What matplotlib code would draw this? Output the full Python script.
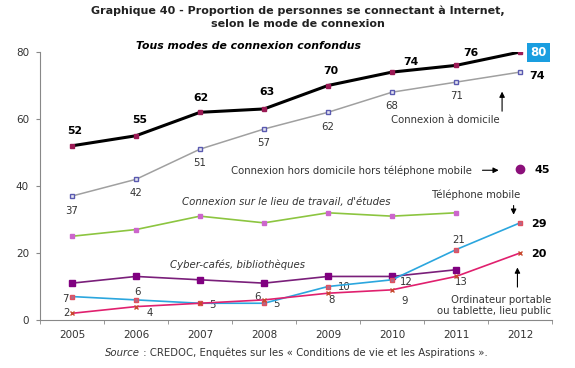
import numpy as np
import matplotlib.pyplot as plt

years = [2005, 2006, 2007, 2008, 2009, 2010, 2011, 2012]
tous_modes = [52, 55, 62, 63, 70, 74, 76, 80]
domicile = [37, 42, 51, 57, 62, 68, 71, 74]
hors_domicile_2012 = 45
travail = [25, 27, 31, 29, 32, 31, 32]
cyber = [11, 13, 12, 11, 13, 13, 15]
mobile = [7, 6, 5, 5, 10, 12, 21, 29]
portable = [2, 4, 5, 6, 8, 9, 13, 20]

x = np.arange(len(years))

fig = plt.figure(figsize=(5.75, 3.68), dpi=100)
ax = fig.add_axes([40 / 575, 1 - 320 / 368, 512 / 575, 268 / 368])

# lines
ax.plot(x, tous_modes, color='black', lw=2.2, marker='s', ms=3.5,
        mfc='#9b1a55', mec='#9b1a55', zorder=5)
ax.plot(x, domicile, color='#a0a0a0', lw=1.1, marker='s', ms=3.5,
        mfc='#e6e6f0', mec='#5a5ab0', zorder=4)
ax.plot(x[:7], travail, color='#8cc540', lw=1.2, marker='s', ms=3.5,
        mfc='#cc66cc', mec='#cc66cc', zorder=4)
ax.plot(x[:7], cyber, color='#7a1f7a', lw=1.2, marker='s', ms=4,
        mfc='#800080', mec='#800080', zorder=4)
ax.plot(x, mobile, color='#2ba6de', lw=1.2, marker='s', ms=3.5,
        mfc='#b06a8a', mec='#e05060', zorder=4)
ax.plot(x, portable, color='#e0206e', lw=1.2, marker='x', ms=3.5,
        mec='#c84a30', mew=1, zorder=4)
ax.plot([7], [hors_domicile_2012], 'o', color='#8b0f7a', ms=6, zorder=5)

ax.set_xlim(-0.5, 7.5)
ax.set_ylim(0, 80)
ax.set_yticks([0, 20, 40, 60, 80])
ax.set_xticks(x)
ax.set_xticklabels([str(y) for y in years])
ax.set_xticks(np.arange(-0.5, 8, 1), minor=True)
ax.tick_params(axis='x', which='major', length=0, pad=7, labelsize=7.5, colors='#333333')
ax.tick_params(axis='x', which='minor', length=3, color='#888888', direction='out')
ax.tick_params(axis='y', length=3, color='#888888', labelsize=7.5, colors='#333333', pad=5)
ax.spines['top'].set_visible(False)
ax.spines['right'].set_visible(False)
ax.spines['left'].set_color('#888888')
ax.spines['bottom'].set_color('#888888')

fs = 7.3
# tous modes labels (dx, y)
tm_pos = [(0.05, 56.5), (0.06, 59.7), (0.02, 66.2), (0.04, 68.2),
          (0.04, 74.3), (0.3, 77.1), (0.23, 79.8)]
for i, (dx, y) in enumerate(tm_pos):
    ax.text(i + dx, y, str(tous_modes[i]), ha='center', va='center', fontsize=7.8, fontweight='bold')
ax.text(7.29, 79.9, '80', ha='center', va='center', fontsize=8.5, fontweight='bold', color='white',
        bbox=dict(boxstyle='square,pad=0.25', fc='#1a9ee0', ec='none'))

dom_pos = [(0.0, 32.5), (0.0, 37.8), (0.0, 46.8), (0.0, 52.9), (0.0, 57.7), (0.0, 63.9), (0.01, 66.9)]
for i, (dx, y) in enumerate(dom_pos):
    ax.text(i + dx, y, str(domicile[i]), ha='center', va='center', fontsize=fs, color='#333333')
ax.text(7.26, 72.9, '74', ha='center', va='center', fontsize=8, fontweight='bold')
ax.text(7.35, 44.8, '45', ha='center', va='center', fontsize=8, fontweight='bold')

# mobile labels (dx, y); 2007 shares the label with portable
mob_pos = [(-0.11, 6.2), (0.02, 8.5), None, (0.2, 4.7), (0.25, 9.8), (0.23, 11.4), (0.04, 23.9)]
for i, p in enumerate(mob_pos):
    if p is None:
        continue
    dx, y = p
    ax.text(i + dx, y, str(mobile[i]), ha='center', va='center', fontsize=fs, color='#333333')
ax.text(7.29, 28.7, '29', ha='center', va='center', fontsize=8, fontweight='bold')

port_pos = [(-0.09, 2.0), (0.22, 2.2), (0.19, 4.5), (-0.1, 7.0), (0.06, 6.0), (0.19, 5.8), (0.09, 11.4)]
for i, (dx, y) in enumerate(port_pos):
    ax.text(i + dx, y, str(portable[i]), ha='center', va='center', fontsize=fs, color='#333333')
ax.text(7.29, 19.7, '20', ha='center', va='center', fontsize=8, fontweight='bold')

arrow = dict(arrowstyle='-|>', color='black', lw=0.8, mutation_scale=8)

# series annotations
ax.text(2.75, 81.8, 'Tous modes de connexion confondus', ha='center', va='center',
        fontsize=7.8, fontweight='bold', style='italic')
ax.annotate('', xy=(6.92, 82.7), xytext=(4.83, 82.7), arrowprops=arrow)

ax.text(5.84, 59.7, 'Connexion à domicile', ha='center', va='center', fontsize=fs, color='#333333')
ax.annotate('', xy=(6.72, 69.0), xytext=(6.72, 61.5), arrowprops=arrow)

ax.text(6.245, 44.6, 'Connexion hors domicile hors téléphone mobile', ha='right', va='center',
        fontsize=fs, color='#333333')
ax.annotate('', xy=(6.71, 44.7), xytext=(6.37, 44.7), arrowprops=arrow)

ax.text(3.34, 35.3, "Connexion sur le lieu de travail, d'études", ha='center', va='center',
        fontsize=fs, style='italic', color='#333333')

ax.text(6.31, 37.3, 'Téléphone mobile', ha='center', va='center', fontsize=fs, color='#333333')
ax.annotate('', xy=(6.9, 30.6), xytext=(6.9, 35.0), arrowprops=arrow)

ax.text(2.59, 16.4, 'Cyber-cafés, bibliothèques', ha='center', va='center',
        fontsize=fs, style='italic', color='#333333')

ax.text(7.49, 4.3, 'Ordinateur portable\nou tablette, lieu public', ha='right', va='center',
        fontsize=fs, color='#333333', linespacing=1.2)
ax.annotate('', xy=(6.96, 16.5), xytext=(6.96, 9.0), arrowprops=arrow)

fig.text(297.6 / 575, 1 - 6 / 368, 'Graphique 40 - Proportion de personnes se connectant à Internet,\nselon le mode de connexion',
         ha='center', va='top', fontsize=8, fontweight='bold', color='#222222', linespacing=1.3)

# source line: italic "Source" followed by the rest, chained to its bbox
src = fig.text(105 / 575, 1 - 352.7 / 368, 'Source', ha='left', va='center', fontsize=fs,
               style='italic', color='#333333')
fig.add_artist(plt.Annotation(' : CREDOC, Enquêtes sur les « Conditions de vie et les Aspirations ».',
                              xy=(1, 0.5), xycoords=src, ha='left', va='center',
                              fontsize=fs, color='#333333'))

fig.savefig('out.png', dpi=100)
